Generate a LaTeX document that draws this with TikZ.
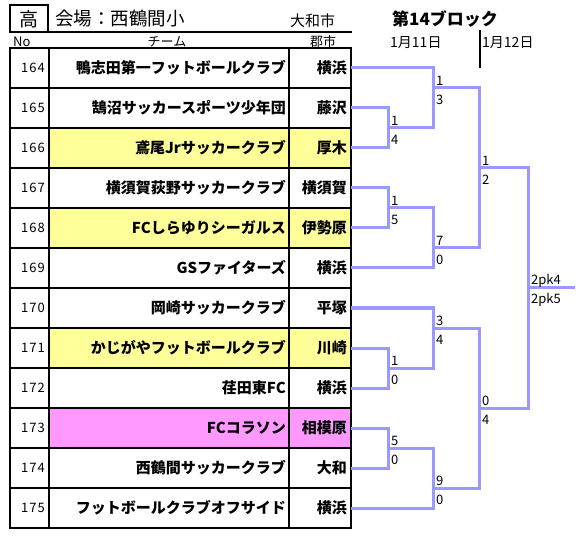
\documentclass[tikz,border=0pt]{standalone}
\usepackage{fontspec}
\setmainfont{Noto Sans CJK JP}
\definecolor{bracket}{HTML}{9999FF}
\definecolor{hlyellow}{HTML}{FFFF99}
\definecolor{hlpink}{HTML}{FF99FF}
\tikzset{
  num/.style={anchor=east,inner sep=0pt,font=\fontsize{13}{13}\selectfont\addfontfeature{LetterSpace=8}},
  team/.style={anchor=east,inner sep=0pt,font=\fontsize{15}{15}\selectfont\bfseries},
  city/.style={anchor=east,inner sep=4pt,font=\fontsize{15}{15}\selectfont\bfseries},
  head/.style={inner sep=0pt,font=\fontsize{13}{13}\selectfont},
  score/.style={anchor=west,inner sep=0pt,font=\fontsize{13}{13}\selectfont},
  win/.style={draw=bracket,line width=3pt},
  rule/.style={line width=1.2pt}
}
\begin{document}
\begin{tikzpicture}[x=1pt,y=-1pt]
  \useasboundingbox (0,0) rectangle (584,540);
  % title
  \draw[line width=1.5pt] (10,5) rectangle (48,32);
  \draw[line width=1.5pt] (48,32) -- (352,32);
  \node[inner sep=0pt,font=\fontsize{19}{19}\selectfont] (lvl) at (29,19) {高};
  \node[anchor=west,inner sep=0pt,font=\fontsize{18.5}{19}\selectfont] (venue) at (55,19) {会場：西鶴間小};
  \node[anchor=west,inner sep=0pt,font=\fontsize{15}{15}\selectfont] (host) at (290,21) {大和市};
  \node[anchor=west,inner sep=0pt,font=\fontsize{17}{17}\selectfont\bfseries] (block) at (392,19) {第14ブロック};
  \node[anchor=west,inner sep=0pt,font=\fontsize{14}{14}\selectfont] (day1) at (390,43) {1月11日};
  \node[anchor=west,inner sep=0pt,font=\fontsize{14}{14}\selectfont] (day2) at (482,43) {1月12日};
  \draw[line width=1.2pt] (480,30) -- (480,68);
  \node[head,anchor=west] (hno) at (13,42) {No};
  \node[head] (hteam) at (167,42) {チーム};
  \node[head] (hcity) at (323,42) {郡市};
  % table
  \fill[hlyellow] (49,128) rectangle (351,168);
  \fill[hlyellow] (49,208) rectangle (351,248);
  \fill[hlyellow] (49,328) rectangle (351,368);
  \fill[hlpink] (49,408) rectangle (351,448);
  \draw[rule] (10,48) rectangle (351,528);
  \draw[rule] (49,48) -- (49,528) (289,48) -- (289,528);
  \draw[rule] (10,88) -- (351,88) (10,128) -- (351,128) (10,168) -- (351,168)
    (10,208) -- (351,208) (10,248) -- (351,248) (10,288) -- (351,288)
    (10,328) -- (351,328) (10,368) -- (351,368) (10,408) -- (351,408)
    (10,448) -- (351,448) (10,488) -- (351,488);
  \node[num] (n164) at (45,68) {164};
  \node[team] (t164) at (286,68) {鴨志田第一フットボールクラブ};
  \node[city] (c164) at (351,68) {横浜};
  \node[num] (n165) at (45,108) {165};
  \node[team] (t165) at (286,108) {鵠沼サッカースポーツ少年団};
  \node[city] (c165) at (351,108) {藤沢};
  \node[num] (n166) at (45,148) {166};
  \node[team] (t166) at (286,148) {鳶尾Jrサッカークラブ};
  \node[city] (c166) at (351,148) {厚木};
  \node[num] (n167) at (45,188) {167};
  \node[team] (t167) at (286,188) {横須賀荻野サッカークラブ};
  \node[city] (c167) at (351,188) {横須賀};
  \node[num] (n168) at (45,228) {168};
  \node[team] (t168) at (286,228) {FCしらゆりシーガルス};
  \node[city] (c168) at (351,228) {伊勢原};
  \node[num] (n169) at (45,268) {169};
  \node[team] (t169) at (286,268) {GSファイターズ};
  \node[city] (c169) at (351,268) {横浜};
  \node[num] (n170) at (45,308) {170};
  \node[team] (t170) at (286,308) {岡崎サッカークラブ};
  \node[city] (c170) at (351,308) {平塚};
  \node[num] (n171) at (45,348) {171};
  \node[team] (t171) at (286,348) {かじがやフットボールクラブ};
  \node[city] (c171) at (351,348) {川崎};
  \node[num] (n172) at (45,388) {172};
  \node[team] (t172) at (286,388) {荏田東FC};
  \node[city] (c172) at (351,388) {横浜};
  \node[num] (n173) at (45,428) {173};
  \node[team] (t173) at (286,428) {FCコラソン};
  \node[city] (c173) at (351,428) {相模原};
  \node[num] (n174) at (45,468) {174};
  \node[team] (t174) at (286,468) {西鶴間サッカークラブ};
  \node[city] (c174) at (351,468) {大和};
  \node[num] (n175) at (45,508) {175};
  \node[team] (t175) at (286,508) {フットボールクラブオフサイド};
  \node[city] (c175) at (351,508) {横浜};
  % bracket joints
  \coordinate (q1) at (388,128);
  \coordinate (q2) at (433,88);
  \coordinate (q3) at (388,208);
  \coordinate (q4) at (433,248);
  \coordinate (q5) at (388,368);
  \coordinate (q6) at (433,328);
  \coordinate (q7) at (388,448);
  \coordinate (q8) at (433,488);
  \coordinate (sf1) at (479,168);
  \coordinate (sf2) at (479,408);
  \coordinate (fin) at (528,288);
  \coordinate (champ) at (575,288);
  \draw[win] (c165.east) -| (q1) |- (c166.east);
  \draw[win] (c164.east) -| (q2) |- (q1);
  \draw[win] (c167.east) -| (q3) |- (c168.east);
  \draw[win] (q3) -| (q4) |- (c169.east);
  \draw[win] (q2) -| (sf1) |- (q4);
  \draw[win] (c171.east) -| (q5) |- (c172.east);
  \draw[win] (c170.east) -| (q6) |- (q5);
  \draw[win] (c173.east) -| (q7) |- (c174.east);
  \draw[win] (q7) -| (q8) |- (c175.east);
  \draw[win] (q6) -| (sf2) |- (q8);
  \draw[win] (sf1) -| (fin) |- (sf2);
  \draw[win] (fin) -- (champ);
  % scores
  \node[score] (s1a) at (391,121) {1};
  \node[score] (s1b) at (391,140) {4};
  \node[score] (s2a) at (436,81) {1};
  \node[score] (s2b) at (436,100) {3};
  \node[score] (s3a) at (391,201) {1};
  \node[score] (s3b) at (391,220) {5};
  \node[score] (s4a) at (436,241) {7};
  \node[score] (s4b) at (436,260) {0};
  \node[score] (s5a) at (391,361) {1};
  \node[score] (s5b) at (391,380) {0};
  \node[score] (s6a) at (436,321) {3};
  \node[score] (s6b) at (436,340) {4};
  \node[score] (s7a) at (391,441) {5};
  \node[score] (s7b) at (391,460) {0};
  \node[score] (s8a) at (436,481) {9};
  \node[score] (s8b) at (436,500) {0};
  \node[score] (sf1a) at (482,161) {1};
  \node[score] (sf1b) at (482,180) {2};
  \node[score] (sf2a) at (482,401) {0};
  \node[score] (sf2b) at (482,420) {4};
  \node[score] (fina) at (531,281) {2pk4};
  \node[score] (finb) at (531,300) {2pk5};
\end{tikzpicture}
\end{document}
